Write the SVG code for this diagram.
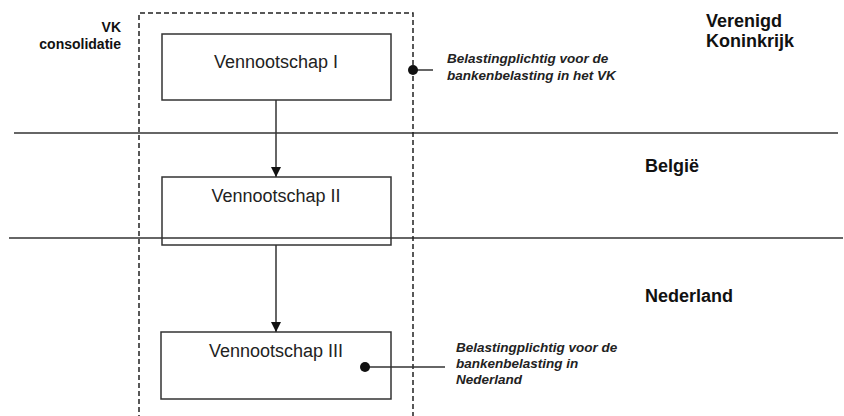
<svg xmlns="http://www.w3.org/2000/svg" width="844" height="416" viewBox="0 0 844 416">
<style>
.box{fill:#fff;stroke:#333;stroke-width:1.5}
.line{stroke:#333;stroke-width:1.5;fill:none}
.dash{stroke:#222;stroke-width:1.5;fill:none;stroke-dasharray:5 3}
.nt{font-family:"Liberation Sans",Arial,sans-serif;font-size:18px;fill:#222;text-anchor:middle}
.bt{font-family:"Liberation Sans",Arial,sans-serif;font-weight:bold;fill:#111}
.it{font-family:"Liberation Sans",Arial,sans-serif;font-weight:bold;font-style:italic;font-size:13.5px;fill:#222}
</style>
<defs>
<marker id="arr" viewBox="0 0 10 10" refX="10" refY="5" markerWidth="10" markerHeight="10" markerUnits="userSpaceOnUse" orient="auto">
<path d="M0,0 L10,5 L0,10 z" fill="#111"/>
</marker>
</defs>
<rect width="844" height="416" fill="#fff"/>
<g id="node1">
<rect class="box" x="162" y="34" width="229" height="66"/>
<text class="nt" x="276" y="68">Vennootschap I</text>
</g>
<g id="node2">
<rect class="box" x="162" y="177" width="229" height="68"/>
<text class="nt" x="276" y="202">Vennootschap II</text>
</g>
<g id="node3">
<rect class="box" x="161" y="332" width="230" height="67"/>
<text class="nt" x="276" y="357">Vennootschap III</text>
</g>
<g id="borders">
<line class="line" x1="14" y1="133" x2="838" y2="133"/>
<line class="line" x1="9" y1="238" x2="843" y2="238"/>
</g>
<g id="consolidation">
<path class="dash" d="M139,420 L139,13 L413,13 L413,420"/>
<text class="bt" font-size="14" text-anchor="end" x="121" y="32">VK</text>
<text class="bt" font-size="14" text-anchor="end" x="121" y="49">consolidatie</text>
</g>
<g id="connectors">
<line class="line" x1="276" y1="100" x2="276" y2="177" marker-end="url(#arr)"/>
<line class="line" x1="276" y1="245" x2="276" y2="332" marker-end="url(#arr)"/>
<line class="line" x1="413" y1="70" x2="433" y2="70"/>
<circle cx="413" cy="70" r="5" fill="#111"/>
<line class="line" x1="365" y1="367" x2="445" y2="367"/>
<circle cx="365" cy="367" r="5" fill="#111"/>
</g>
<g id="labels">
<text class="it" x="447" y="63">Belastingplichtig voor de</text>
<text class="it" x="447" y="80">bankenbelasting in het VK</text>
<text class="it" x="456" y="352">Belastingplichtig voor de</text>
<text class="it" x="456" y="368">bankenbelasting in</text>
<text class="it" x="456" y="384">Nederland</text>
<text class="bt" font-size="18" x="706" y="27">Verenigd</text>
<text class="bt" font-size="18" x="706" y="47">Koninkrijk</text>
<text class="bt" font-size="18" x="645" y="172">België</text>
<text class="bt" font-size="18" x="645" y="302">Nederland</text>
</g>
</svg>
